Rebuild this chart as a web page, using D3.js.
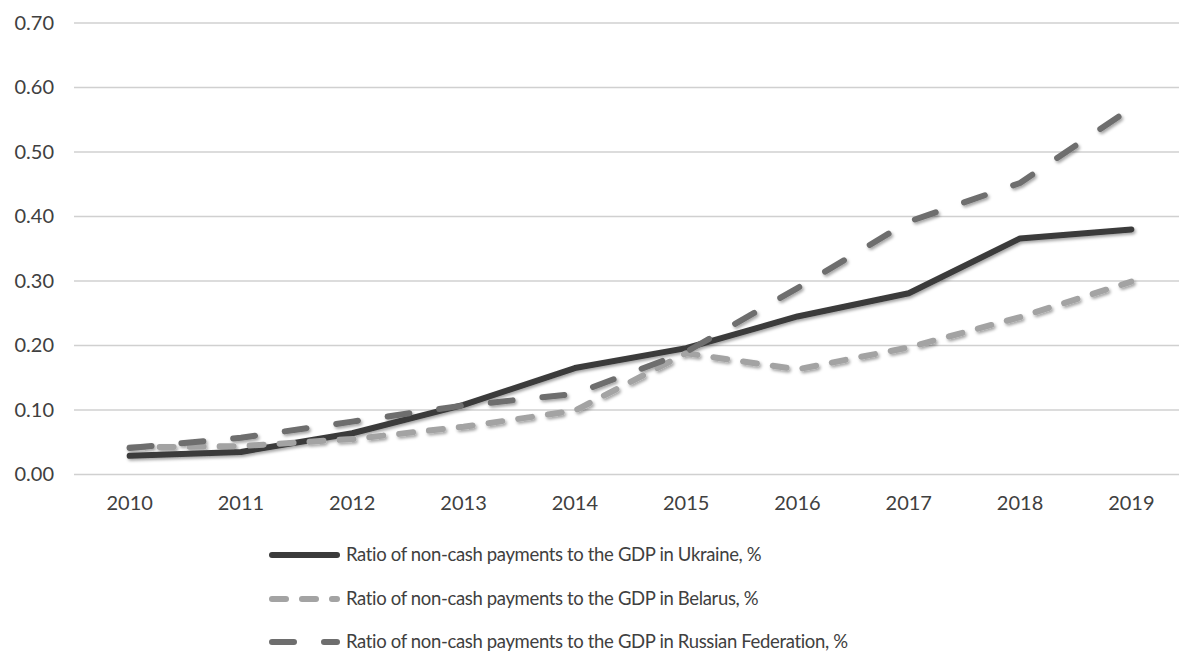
<!DOCTYPE html>
<html>
<head>
<meta charset="utf-8">
<script src="https://cdn.jsdelivr.net/npm/d3@7"></script>
<style>
  html, body { margin: 0; padding: 0; background: #fff; }
  svg { display: block; }
  text { font-family: Lato, "Open Sans", sans-serif; fill: #404040; }
</style>
</head>
<body>
<svg id="chart" width="1179" height="653"></svg>
<script>
// Years on the category axis
const years = ["2010", "2011", "2012", "2013", "2014", "2015", "2016", "2017", "2018", "2019"];

// Ratio of non-cash payments to GDP, by country
const ukraine = [0.029, 0.035, 0.064, 0.108, 0.165, 0.196, 0.245, 0.281, 0.366, 0.380];
const belarus = [0.042, 0.044, 0.055, 0.074, 0.099, 0.188, 0.163, 0.197, 0.244, 0.299];
const russia  = [0.041, 0.057, 0.082, 0.107, 0.125, 0.190, 0.289, 0.392, 0.452, 0.568];

const seriesNames = [
  "Ratio of non-cash payments to the GDP in Ukraine, %",
  "Ratio of non-cash payments to the GDP in Belarus, %",
  "Ratio of non-cash payments to the GDP in Russian Federation, %"
];

const yTicks = [0, 0.1, 0.2, 0.3, 0.4, 0.5, 0.6, 0.7];

const series = [
  { name: seriesNames[0], values: ukraine, color: "#3b3b3b", dash: null },
  { name: seriesNames[1], values: belarus, color: "#a3a3a3", dash: "14 16" },
  { name: seriesNames[2], values: russia,  color: "#6e6e6e", dash: "22 30" }
];

const svg = d3.select("#chart");
const plot = { left: 74, right: 1187, top: 23, bottom: 474.5 };

const x = d3.scaleBand().domain(years).range([plot.left, plot.right]).padding(0);
const y = d3.scaleLinear().domain([0, 0.7]).range([plot.bottom, plot.top]);

// Soft shadow under the lines
const defs = svg.append("defs");
const f = defs.append("filter").attr("id", "shadow")
  .attr("x", "-5%").attr("y", "-5%").attr("width", "110%").attr("height", "120%");
f.append("feDropShadow").attr("dx", 1.5).attr("dy", 2).attr("stdDeviation", 1.6)
  .attr("flood-color", "#000").attr("flood-opacity", 0.35);

// Horizontal gridlines
svg.append("g").selectAll("line").data(yTicks).join("line")
  .attr("x1", plot.left).attr("x2", plot.right)
  .attr("y1", d => y(d)).attr("y2", d => y(d))
  .attr("stroke", "#d0d0d0").attr("stroke-width", 1.5);

// Y axis labels
const yAxis = d3.axisLeft(y).tickValues(yTicks).tickFormat(d3.format(".2f")).tickSize(0).tickPadding(0);
svg.append("g").attr("transform", "translate(54,0)").call(yAxis)
  .call(g => g.select(".domain").remove())
  .call(g => g.selectAll("text").attr("font-size", 20).attr("fill", "#404040")
    .attr("font-family", "Lato, 'Open Sans', sans-serif"));

// X axis labels
const xAxis = d3.axisBottom(x).tickSize(0).tickPadding(0);
svg.append("g").attr("transform", "translate(0,496)").call(xAxis)
  .call(g => g.select(".domain").remove())
  .call(g => g.selectAll("text").attr("font-size", 20).attr("fill", "#404040")
    .attr("font-family", "Lato, 'Open Sans', sans-serif"));

const cx = d => x(d) + x.bandwidth() / 2;
const line = d3.line().x((d, i) => cx(years[i])).y(d => y(d));

svg.append("g").attr("filter", "url(#shadow)")
  .selectAll("path").data(series).join("path")
  .attr("d", d => line(d.values))
  .attr("fill", "none")
  .attr("stroke", d => d.color)
  .attr("stroke-width", 6)
  .attr("stroke-linecap", "round")
  .attr("stroke-linejoin", "round")
  .attr("stroke-dasharray", d => d.dash);

// Legend
const legend = svg.append("g");
const rowY = [555, 599, 642];
series.forEach((s, i) => {
  legend.append("line")
    .attr("x1", 272).attr("x2", 337)
    .attr("y1", rowY[i]).attr("y2", rowY[i])
    .attr("stroke", s.color).attr("stroke-width", 6)
    .attr("stroke-linecap", "round")
    .attr("stroke-dasharray", s.dash);
  legend.append("text")
    .attr("x", 346).attr("y", rowY[i]).attr("dy", "0.35em")
    .attr("font-size", 18.5)
    .attr("letter-spacing", -0.35)
    .text(s.name);
});
</script>
</body>
</html>
